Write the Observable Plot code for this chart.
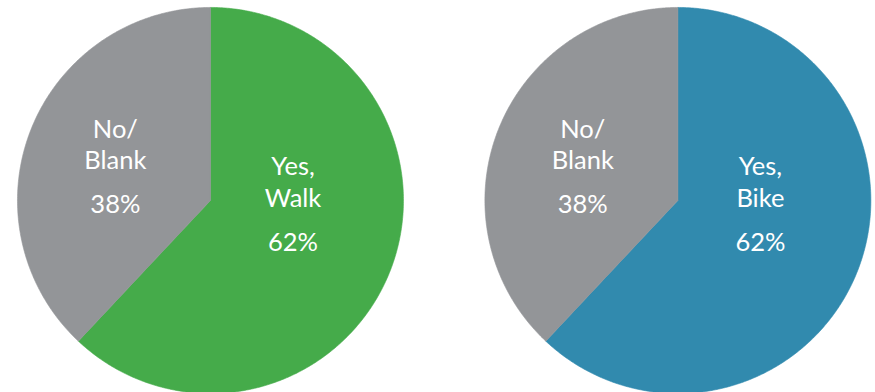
<!DOCTYPE html>
<html><head><meta charset="utf-8">
<script src="https://cdn.jsdelivr.net/npm/d3@7"></script>
<script src="https://cdn.jsdelivr.net/npm/@observablehq/plot@0.6"></script>
<style>
body{margin:0;background:#fff;}
#chart svg{display:block;}
</style>
</head><body><div id="chart"></div>
<script>
// ---- data ----
const pies = ["Walk", "Bike"];
const categories = ["Yes", "No/Blank"];
const walkValues = [62, 38];
const bikeValues = [62, 38];
const walkLabels = ["Yes,\nWalk", "No/\nBlank"];
const bikeLabels = ["Yes,\nBike", "No/\nBlank"];
const pctLabels = ["62%", "38%"];
const colorKeys = ["Walk", "Bike", "No/Blank"];
const colorRange = ["#45AB4A", "#318AAE", "#939598"];

// ---- geometry (unit = one pie radius) ----
const spacing = 2.422;
const valuesByPie = [walkValues, bikeValues];
const labelsByPie = [walkLabels, bikeLabels];
const slices = [];
const labels = [];
pies.forEach((pie, i) => {
  const arcs = d3.pie().sort(null)(valuesByPie[i]);
  arcs.forEach((a, j) => {
    const isYes = categories[j] === "Yes";
    const key = isYes ? pie : categories[j];
    const id = pie + "-" + categories[j];
    const n = Math.max(2, Math.ceil((a.endAngle - a.startAngle) / (2 * Math.PI) * 720));
    slices.push({x: i * spacing, y: 0, id, key});
    for (let k = 0; k <= n; k++) {
      const t = a.startAngle + (a.endAngle - a.startAngle) * k / n;
      slices.push({x: i * spacing + Math.sin(t), y: Math.cos(t), id, key});
    }
    slices.push({x: i * spacing, y: 0, id, key});
    const mid = (a.startAngle + a.endAngle) / 2;
    const rho = isYes ? 0.46 : 0.53;
    const lift = isYes ? 0.15 : -0.022;
    const ny = 0.5 * Math.cos(mid) + lift;
    labels.push({
      x: i * spacing + rho * Math.sin(mid),
      y: ny,
      py: ny - 0.228,
      name: labelsByPie[i][j],
      pct: pctLabels[j]
    });
  });
});

const chart = Plot.plot({
  width: 875,
  height: 392,
  margin: 0,
  x: {domain: [-1.088, 3.446], axis: null},
  y: {domain: [-0.995, 1.036], axis: null},
  color: {domain: colorKeys, range: colorRange},
  style: {background: "#fff", fontFamily: "Lato, 'Open Sans', sans-serif"},
  marks: [
    Plot.line(slices, {x: "x", y: "y", z: "id", fill: "key", stroke: "key", strokeWidth: 0.6, curve: "linear"}),
    Plot.text(labels, {x: "x", y: "y", text: "name", fill: "white", fontSize: 25.5, lineHeight: 1.24, lineAnchor: "bottom", textAnchor: "middle", fontFamily: "Lato"}),
    Plot.text(labels, {x: "x", y: "py", text: "pct", fill: "white", fontSize: 25.5, lineAnchor: "bottom", textAnchor: "middle", fontFamily: "Lato"})
  ]
});
document.getElementById("chart").appendChild(chart);
</script>
</body></html>
